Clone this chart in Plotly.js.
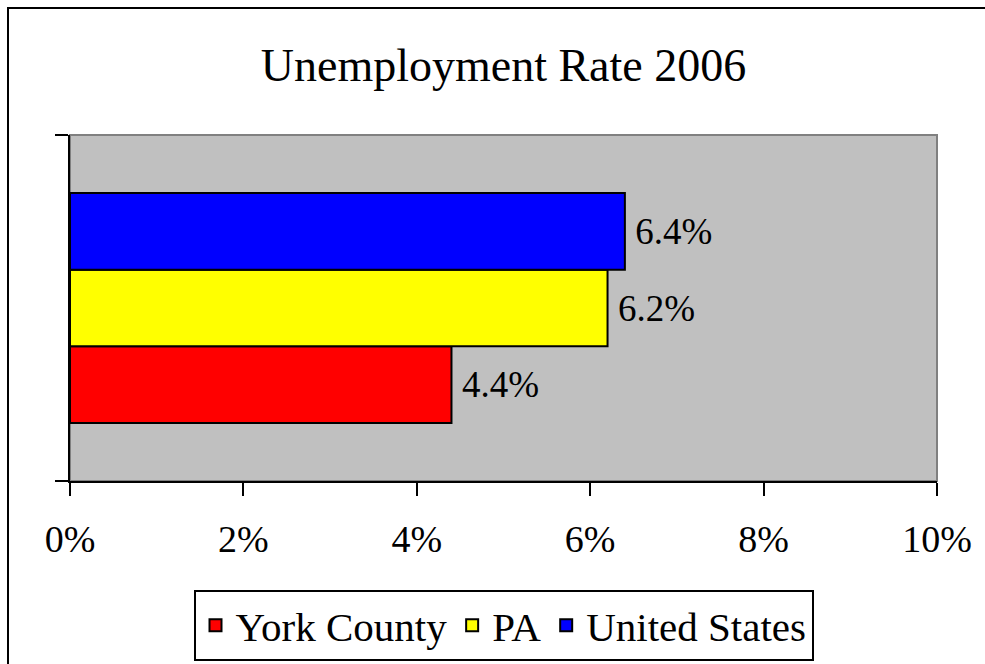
<!DOCTYPE html>
<html>
<head>
<meta charset="utf-8">
<script src="https://cdn.plot.ly/plotly-3.0.1.min.js"></script>
<style>
html,body{margin:0;padding:0;background:#fff;}
#wrap{position:relative;width:985px;height:664px;overflow:hidden;}
#frame{position:absolute;left:7px;top:7px;width:1000px;height:700px;border-left:2px solid #000;border-top:2px solid #000;box-sizing:border-box;pointer-events:none;z-index:5;}
#chart{position:absolute;left:0;top:0;width:985px;height:664px;}
</style>
</head>
<body>
<div id="wrap"><div id="chart"></div><div id="frame"></div></div>
<script>
const seriesNames = ["York County", "PA", "United States"];
const seriesValues = [4.4, 6.2, 6.4];
const seriesColors = ["#FF0000", "#FFFF00", "#0000FF"];
const xTicks = [0, 2, 4, 6, 8, 10];
const titleText = "Unemployment Rate 2006";

const FONT = "Liberation Serif, Times New Roman, serif";

const traces = seriesNames.map((n, i) => ({
  type: "bar",
  orientation: "h",
  name: n,
  x: [seriesValues[i]],
  y: [0],
  text: ["\u2009" + seriesValues[i].toFixed(1) + "%"],
  textposition: "outside",
  textfont: {family: FONT, size: 37, color: "#000"},
  cliponaxis: false,
  marker: {color: seriesColors[i], line: {color: "#000", width: 2}},
  hoverinfo: "skip"
}));

const layout = {
  width: 985, height: 664,
  margin: {l: 70, r: 48, t: 135, b: 183},
  paper_bgcolor: "#fff",
  plot_bgcolor: "#C0C0C0",
  barmode: "group",
  bargap: 0.335,
  bargroupgap: 0,
  showlegend: true,
  title: {
    text: titleText,
    font: {family: FONT, size: 46, color: "#000"},
    x: 0.5, xref: "paper", xanchor: "center",
    y: 1 - 65/664, yref: "container", yanchor: "middle"
  },
  xaxis: {
    range: [0, 10],
    tickvals: xTicks,
    ticktext: xTicks.map(v => v + "%"),
    ticks: "outside", ticklen: 13, tickwidth: 2, tickcolor: "#000",
    ticklabelstandoff: 10,
    showline: true, linecolor: "#000", linewidth: 2,
    showgrid: false, zeroline: false,
    tickfont: {family: FONT, size: 38, color: "#000"},
    fixedrange: true
  },
  yaxis: {
    range: [-0.5, 0.5],
    tickvals: [-0.5, 0.5],
    showticklabels: false,
    ticks: "outside", ticklen: 13, tickwidth: 2, tickcolor: "#000",
    showline: true, linecolor: "#000", linewidth: 2,
    showgrid: false, zeroline: false,
    fixedrange: true
  },
  shapes: [{
    type: "rect", xref: "paper", yref: "paper", x0: 0, x1: 1, y0: 0, y1: 1,
    line: {color: "#808080", width: 2}, layer: "below"
  }],
  legend: {
    orientation: "h",
    xref: "paper", x: 0.5, xanchor: "center",
    yref: "container", y: 1 - 661/664, yanchor: "bottom",
    bordercolor: "#000", borderwidth: 2,
    bgcolor: "#fff",
    font: {family: FONT, size: 41, color: "#000"},
    itemwidth: 30,
    tracegroupgap: 0
  }
};

Plotly.newPlot("chart", traces, layout, {staticPlot: true, displayModeBar: false});
</script>
</body>
</html>
